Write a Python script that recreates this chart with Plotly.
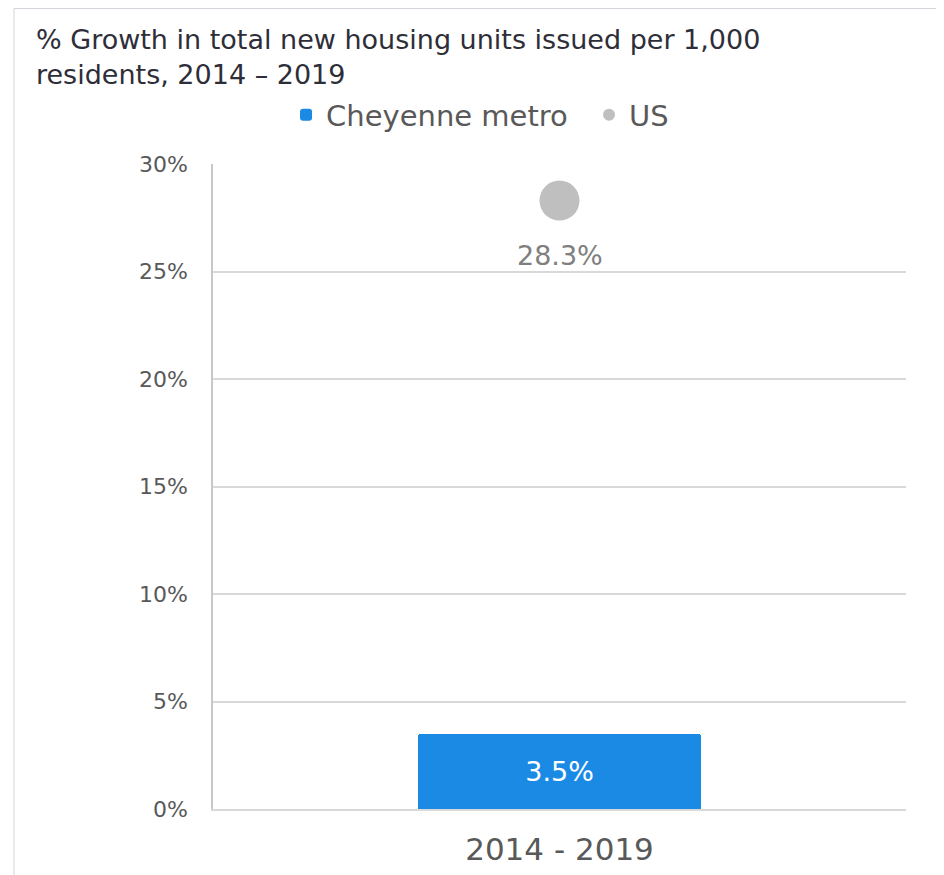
import plotly.graph_objects as go

categories = ["2014 - 2019"]
cheyenne_values = [3.5]
us_values = [28.3]
series_names = ["Cheyenne metro", "US"]
title_text = "% Growth in total new housing units issued per 1,000<br>residents, 2014 – 2019"

FONT = "DejaVu Sans"
W, H = 936, 867  # page body adds an 8px offset
ML, MR, MT, MB = 205, 38, 156, 66
PW, PH = W - ML - MR, H - MT - MB

fig = go.Figure()
fig.add_trace(go.Bar(
    x=categories, y=cheyenne_values, name=series_names[0],
    marker=dict(color="#1a8ae5", cornerradius=3, line=dict(width=0)),
    width=0.407,
    texttemplate="%{y:.1f}%", textposition="inside", insidetextanchor="middle",
    textfont=dict(color="white", size=27, family=FONT),
    showlegend=True,
))
fig.add_trace(go.Scatter(
    x=categories, y=us_values, name=series_names[1], mode="markers",
    marker=dict(color="#bfbfbf", size=40),
))
for c, v in zip(categories, us_values):
    fig.add_annotation(x=c, y=v, text=f"{v:.1f}%", showarrow=False, yshift=-55,
                       font=dict(color="#7f7f7f", size=27, family=FONT))

# chart frame
fig.add_shape(type="rect", xref="paper", yref="paper",
              x0=(6 - ML) / PW, x1=(932 - ML) / PW,
              y0=-0.2, y1=(PH + MT - 0.5) / PH,
              line=dict(color="#d4d4dc", width=1), fillcolor="rgba(0,0,0,0)", layer="below")

fig.update_layout(
    width=W, height=H,
    margin=dict(l=ML, r=MR, t=MT, b=MB),
    paper_bgcolor="white", plot_bgcolor="white",
    font=dict(family=FONT, color="#595959"),
    title=dict(text=title_text, x=28 / W, xanchor="left", xref="container",
               y=1 - 41 / H, yanchor="top", yref="container",
               font=dict(size=27, color="#2e2e38", family=FONT)),
    legend=dict(orientation="h", x=0.1054, xanchor="left", y=1.076, yanchor="middle",
                font=dict(size=29, color="#595959", family=FONT), itemsizing="constant",
                entrywidth=258, bgcolor="rgba(0,0,0,0)"),
    bargap=0,
)
fig.update_yaxes(range=[0, 30], dtick=5, ticksuffix="%", showgrid=True, gridcolor="#d9d9d9",
                 gridwidth=1.5, zeroline=False, showline=True, linecolor="#c8c8c8", linewidth=1.5,
                 tickfont=dict(size=22, color="#595959", family=FONT), ticklabelstandoff=19,
                 automargin=False)
fig.update_xaxes(showgrid=False, showline=True, linecolor="#d9d9d9", linewidth=1.5,
                 tickfont=dict(size=31, color="#595959", family=FONT), ticklabelstandoff=12,
                 automargin=False)

fig.write_html("out.html")
